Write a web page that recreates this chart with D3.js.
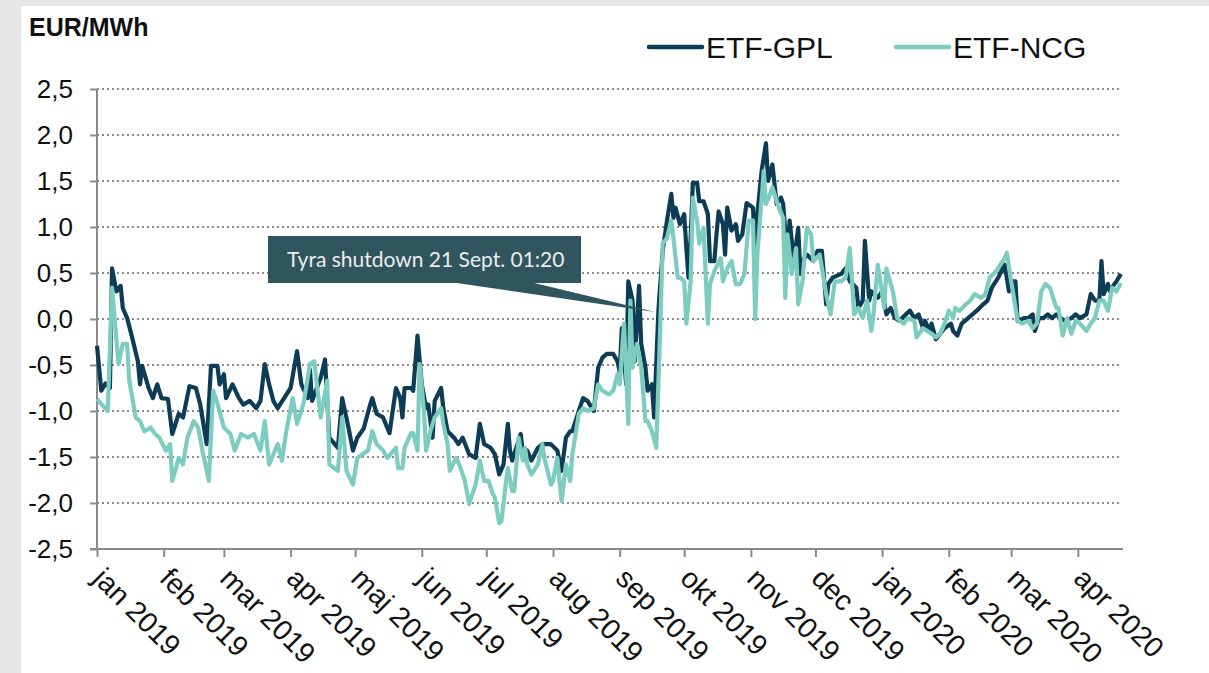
<!DOCTYPE html>
<html>
<head>
<meta charset="utf-8">
<script src="https://cdn.jsdelivr.net/npm/d3@7"></script>
<style>
  body { margin: 0; background: #e6e6e6; }
  svg { display: block; }
</style>
</head>
<body>
<div id="chart"></div>
<script>
// chart size
var svgWidth = 1209;
var svgHeight = 673;

// days since 1 jan 2019 and spread values, EUR/MWh
var gplDay = [0,2,4,6,7,9,11,12,14,16,19,20,21,24,26,28,30,33,35,38,40,43,46,48,51,53,56,57,59,60,63,66,68,71,74,76,78,80,82,84,87,90,93,95,98,99,100,104,106,108,112,114,117,119,121,124,127,128,130,133,136,139,141,142,143,146,147,149,151,153,154,156,157,160,161,163,166,168,170,173,176,178,180,183,185,187,189,191,192,193,197,198,200,202,205,207,211,214,216,218,220,221,224,226,228,231,233,235,237,240,242,243,244,246,247,249,250,252,253,255,256,258,259,261,263,265,267,268,269,271,273,274,275,276,277,279,280,282,284,285,287,288,289,291,292,293,295,297,298,300,302,305,306,307,309,311,312,314,316,318,319,321,322,324,326,327,328,330,333,335,337,339,340,342,346,348,350,353,354,356,357,359,360,363,365,367,369,371,373,376,378,380,382,384,385,387,388,390,392,394,397,398,400,402,405,407,409,412,414,416,419,421,422,424,426,427,428,431,433,435,436,438,440,442,444,446,448,450,453,455,457,460,462,464,466,467,468,470,471,473,474,476];
var gplVal = [-0.29,-0.78,-0.70,-0.75,0.55,0.30,0.36,0.12,0.01,-0.17,-0.46,-0.71,-0.51,-0.75,-0.86,-0.71,-0.86,-0.87,-1.25,-1.03,-1.07,-0.73,-0.75,-0.93,-1.36,-0.51,-0.51,-0.71,-0.60,-0.86,-0.71,-0.86,-0.93,-0.89,-0.97,-0.89,-0.49,-0.71,-0.89,-0.97,-0.86,-0.75,-0.35,-0.71,-0.86,-0.55,-0.89,-0.64,-0.44,-1.29,-1.40,-0.86,-1.19,-1.43,-1.29,-1.19,-0.93,-0.86,-1.03,-1.07,-1.24,-0.75,-0.86,-1.07,-0.75,-0.75,-0.78,-0.18,-0.71,-0.97,-0.93,-1.29,-0.89,-0.75,-0.97,-1.22,-1.29,-1.36,-1.29,-1.47,-1.51,-1.14,-1.36,-1.40,-1.47,-1.69,-1.58,-1.14,-1.43,-1.54,-1.25,-1.47,-1.43,-1.54,-1.40,-1.36,-1.36,-1.43,-1.65,-1.29,-1.22,-1.22,-1.00,-0.86,-0.89,-1.00,-0.53,-0.42,-0.38,-0.38,-0.46,-0.57,-0.10,-0.71,0.41,0.20,-0.46,0.36,-0.27,-0.53,-0.78,-0.71,-1.07,0.09,0.74,1.07,1.36,1.10,1.21,1.03,1.14,0.77,0.45,0.88,1.48,1.48,1.28,1.28,1.14,0.63,0.63,0.92,1.17,1.03,0.70,1.21,0.96,1.03,0.85,0.92,1.26,1.21,0.63,1.14,1.61,1.91,1.50,1.68,1.25,1.32,1.25,0.66,1.07,0.63,0.99,0.49,0.63,0.70,0.63,0.74,0.74,0.16,0.38,0.45,0.49,0.55,0.41,0.34,0.12,0.20,0.85,0.20,0.30,0.23,0.30,0.05,0.12,0.01,-0.02,0.05,0.09,0.01,0.05,-0.10,-0.02,-0.13,-0.05,-0.22,-0.16,-0.10,-0.05,-0.13,-0.18,-0.05,0.01,0.05,0.09,0.16,0.20,0.34,0.45,0.55,0.59,0.30,0.41,0.41,-0.02,0.01,0.01,0.05,-0.13,0.01,0.01,0.05,0.01,0.05,0.01,-0.02,0.01,0.05,0.01,0.05,0.27,0.20,0.20,0.63,0.27,0.38,0.30,0.38,0.41,0.49];

var ncgDay = [0,3,5,7,10,12,14,15,18,20,22,25,27,29,32,34,35,38,40,42,45,47,49,52,54,56,59,62,64,67,70,73,76,78,80,84,86,88,91,93,96,99,101,104,107,108,112,114,116,119,121,126,128,130,133,135,139,140,142,143,146,147,149,150,152,153,155,157,160,161,163,164,167,169,171,173,176,178,180,182,184,185,187,188,190,191,193,194,196,198,199,200,202,205,207,208,211,212,214,216,218,220,221,224,226,228,231,233,235,238,240,242,243,245,247,248,249,251,253,255,256,258,260,262,263,265,267,268,270,271,273,274,276,277,279,280,282,284,285,287,290,291,293,295,297,299,301,303,305,306,307,310,311,313,314,317,319,320,321,323,325,326,328,330,332,333,336,339,341,343,346,348,350,352,354,356,358,360,361,363,366,367,370,372,375,377,380,381,384,386,388,390,392,394,396,398,399,401,404,406,408,411,413,415,418,420,422,423,425,426,428,430,433,435,437,439,441,443,446,447,449,451,453,455,457,460,462,464,466,468,470,472,474,476];
var ncgVal = [-0.87,-0.95,-1.00,0.34,-0.49,-0.27,-0.27,-0.67,-1.07,-1.11,-1.22,-1.18,-1.25,-1.29,-1.43,-1.36,-1.76,-1.51,-1.58,-1.29,-1.11,-1.18,-1.43,-1.76,-0.78,-0.92,-1.18,-1.25,-1.43,-1.25,-1.29,-1.25,-1.43,-1.11,-1.58,-1.36,-1.54,-1.22,-0.86,-1.14,-0.92,-0.49,-0.46,-1.07,-0.67,-1.58,-1.65,-1.07,-1.65,-1.80,-1.51,-1.43,-1.22,-1.36,-1.43,-1.51,-1.40,-1.62,-1.62,-1.40,-1.24,-1.24,-1.43,-0.49,-1.00,-1.43,-1.22,-1.07,-0.97,-1.14,-1.36,-1.65,-1.51,-1.62,-1.76,-2.01,-1.80,-1.54,-1.76,-1.76,-1.90,-1.94,-2.22,-2.20,-1.80,-1.62,-1.87,-1.87,-1.29,-1.54,-1.40,-1.58,-1.69,-1.58,-1.36,-1.51,-1.80,-1.76,-1.51,-1.98,-1.58,-1.76,-1.47,-1.03,-0.97,-1.00,-0.97,-0.71,-0.78,-0.82,-0.78,-0.60,-0.71,-0.05,-1.14,0.20,-0.53,-0.27,-0.53,-1.11,-1.11,-1.22,-1.40,0.00,0.82,0.88,1.07,0.88,0.45,0.45,0.41,-0.05,0.41,1.32,1.07,0.82,0.99,-0.05,0.38,0.52,0.66,0.41,0.55,0.63,0.38,0.38,0.49,1.07,1.07,0.00,0.70,1.61,1.25,1.36,1.43,1.21,1.10,0.23,0.92,0.49,0.77,0.16,0.41,0.99,0.92,0.63,0.70,0.27,0.05,0.41,0.41,0.45,0.77,0.05,0.12,0.01,0.20,-0.13,0.05,0.59,0.12,0.55,0.30,0.01,-0.05,0.01,-0.02,-0.20,-0.10,-0.13,-0.16,-0.20,-0.16,-0.05,0.09,0.01,0.12,0.09,0.16,0.20,0.27,0.23,0.27,0.45,0.52,0.59,0.66,0.72,0.41,0.27,-0.02,-0.05,-0.02,-0.10,-0.05,0.30,0.38,0.34,0.12,0.12,-0.18,0.01,-0.16,-0.02,-0.05,-0.13,-0.05,0.01,0.20,0.20,0.09,0.34,0.30,0.39];

var monthLabels = ["jan 2019","feb 2019","mar 2019","apr 2019","maj 2019","jun 2019","jul 2019","aug 2019","sep 2019","okt 2019","nov 2019","dec 2019","jan 2020","feb 2020","mar 2020","apr 2020"];
var yTicks = [-2.5,-2.0,-1.5,-1.0,-0.5,0.0,0.5,1.0,1.5,2.0,2.5];
var seriesNames = ["ETF-GPL","ETF-NCG"];
var seriesColors = ["#0d3d56","#7ccdc0"];
var noteText = "Tyra shutdown 21 Sept. 01:20";

var startDate = new Date(2019, 0, 1);
var endDate = new Date(2020, 3, 22);

var svg = d3.select("#chart")
    .append("svg")
    .attr("width", svgWidth)
    .attr("height", svgHeight);

// grey frame and white panel
svg.append("rect").attr("width", svgWidth).attr("height", svgHeight).attr("fill", "#e6e6e6");
svg.append("rect").attr("x", 21).attr("y", 6).attr("width", svgWidth - 21).attr("height", svgHeight - 6).attr("fill", "#ffffff");

var xScale = d3.scaleTime().domain([startDate, endDate]).range([97, 1123]);
var yScale = d3.scaleLinear().domain([-2.5, 2.5]).range([549, 89]);

var locale = d3.formatLocale({decimal: ",", thousands: ".", grouping: [3], currency: ["", ""], minus: "-"});
var fmt = locale.format(".1f");

// grid lines
svg.append("g").selectAll("line")
    .data(yTicks.filter(d => d > -2.5))
    .enter()
    .append("line")
    .attr("x1", 97)
    .attr("x2", 1120)
    .attr("y1", d => yScale(d))
    .attr("y2", d => yScale(d))
    .attr("stroke", "#8a8a8a")
    .attr("stroke-width", 2)
    .attr("stroke-dasharray", "2,3");

// y axis
var leftAxis = d3.axisLeft(yScale).tickValues(yTicks).tickFormat(fmt).tickSize(7).tickPadding(17);
var yAxisG = svg.append("g").attr("transform", "translate(97,0)").call(leftAxis);
yAxisG.select(".domain").attr("stroke", "#8a8a8a").attr("stroke-width", 2).attr("d", "M0," + yScale(2.5) + "V" + yScale(-2.5));
yAxisG.selectAll(".tick line").attr("stroke", "#8a8a8a").attr("stroke-width", 2);
yAxisG.selectAll("text")
    .attr("font-family", "Liberation Sans, Arial, sans-serif")
    .attr("font-size", "26px")
    .attr("fill", "#111");

// x axis
var months = d3.timeMonth.range(startDate, endDate);
var bottomAxis = d3.axisBottom(xScale).tickValues(months).tickFormat((d, i) => monthLabels[i]).tickSize(8);
var xAxisG = svg.append("g").attr("transform", "translate(0,549)").call(bottomAxis);
xAxisG.select(".domain").attr("stroke", "#8a8a8a").attr("stroke-width", 2).attr("d", "M90,0H1123");
xAxisG.selectAll(".tick line").attr("stroke", "#8a8a8a").attr("stroke-width", 2);
xAxisG.selectAll("text")
    .attr("font-family", "Liberation Sans, Arial, sans-serif")
    .attr("font-size", "28.5px")
    .attr("fill", "#111")
    .attr("text-anchor", "start")
    .attr("y", 0)
    .attr("dy", 0)
    .attr("transform", "translate(-6,31) rotate(45)");

// lines
var line = d3.line()
    .x(d => xScale(d3.timeDay.offset(startDate, d[0])))
    .y(d => yScale(d[1]));

var gplData = gplDay.map((d, i) => [d, gplVal[i]]);
var ncgData = ncgDay.map((d, i) => [d, ncgVal[i]]);

[gplData, ncgData].forEach(function(data, i) {
    svg.append("path")
        .datum(data)
        .attr("d", line)
        .attr("fill", "none")
        .attr("stroke", seriesColors[i])
        .attr("stroke-width", 4.2)
        .attr("stroke-linejoin", "round");
});

// annotation callout
var note = svg.append("g");
note.append("path")
    .attr("d", "M450,282L530,282L655,312Z")
    .attr("fill", "#31555f");
note.append("rect")
    .attr("x", 268).attr("y", 236)
    .attr("width", 313).attr("height", 47)
    .attr("fill", "#31555f");
note.append("text")
    .attr("x", 287).attr("y", 267)
    .attr("font-family", "Lato, sans-serif")
    .attr("font-size", "21px")
    .attr("fill", "#ececec")
    .text(noteText);

// title
svg.append("text")
    .attr("x", 29).attr("y", 36)
    .attr("font-family", "Liberation Sans, Arial, sans-serif")
    .attr("font-weight", "bold")
    .attr("font-size", "25px")
    .attr("fill", "#111")
    .text("EUR/MWh");

// legend
var legendX = [649, 896];
seriesNames.forEach(function(name, i) {
    svg.append("line")
        .attr("x1", legendX[i]).attr("x2", legendX[i] + 53)
        .attr("y1", 47).attr("y2", 47)
        .attr("stroke", seriesColors[i])
        .attr("stroke-width", 4.5)
        .attr("stroke-linecap", "round");
    svg.append("text")
        .attr("x", legendX[i] + 57).attr("y", 58)
        .attr("font-family", "Liberation Sans, Arial, sans-serif")
        .attr("font-size", "30px")
        .attr("fill", "#111")
        .text(name);
});
</script>
</body>
</html>
